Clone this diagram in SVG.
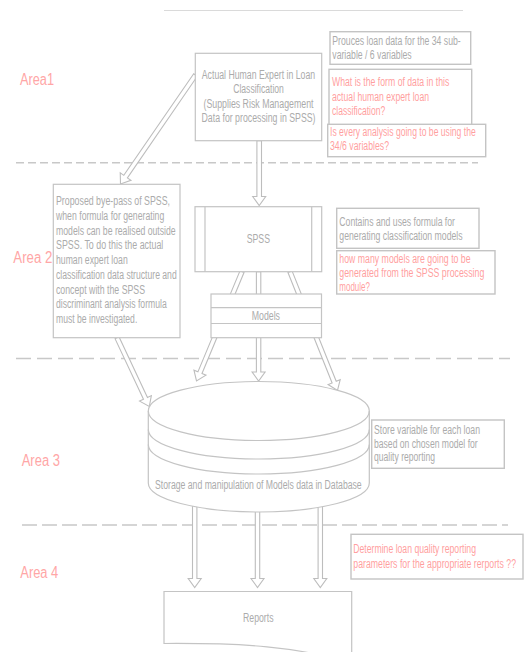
<svg xmlns="http://www.w3.org/2000/svg" width="525" height="652" viewBox="0 0 525 652">
<defs>
<style>
.bg{fill:#ffffff}
.box{fill:#ffffff;stroke:#c4c4c4;stroke-width:1.2}
.note{fill:#ffffff;stroke:#c4c4c4;stroke-width:1.4}
.ln{fill:none;stroke:#c4c4c4;stroke-width:1.2}
.arrow{fill:#ffffff;stroke:#bdbdbd;stroke-width:1.1;stroke-linejoin:miter}
.sep{fill:none;stroke:#c8c8c8;stroke-width:1.4}
text{font-family:"Liberation Sans",Arial,sans-serif;font-size:12px}
.t{fill:#ababab}
.p{fill:#ff9f9f}
.area{fill:#ffa6a6;font-size:16px}
</style>
</defs>
<rect class="bg" x="0" y="0" width="525" height="652"/>
<line x1="164" y1="10.5" x2="463" y2="10.5" stroke="#dadada" stroke-width="1"/>
<g id="separators">
<line class="sep" x1="16" y1="162.7" x2="478" y2="162.7" stroke-dasharray="8,4"/>
<line class="sep" x1="16" y1="358.5" x2="510" y2="358.5" stroke-dasharray="15,6"/>
<line class="sep" x1="22" y1="525" x2="508" y2="525" stroke-dasharray="15,5"/>
</g>
<g id="area-labels">
<text class="area" x="20" y="84.5" textLength="34" lengthAdjust="spacingAndGlyphs">Area1</text>
<text class="area" x="13.3" y="263" textLength="39" lengthAdjust="spacingAndGlyphs">Area 2</text>
<text class="area" x="21.7" y="466" textLength="38.3" lengthAdjust="spacingAndGlyphs">Area 3</text>
<text class="area" x="20.3" y="577.5" textLength="38" lengthAdjust="spacingAndGlyphs">Area 4</text>
</g>
<g id="connectors">
<polygon class="arrow" points="256.9,140.7 256.9,196.5 252.7,196.5 259.2,205.5 265.7,196.5 261.5,196.5 261.5,140.7"/>
<polygon class="arrow" points="193.69,73.75 123.79,175.33 120.24,172.9 120.5,184 130.96,180.26 127.41,177.83 197.31,76.25"/>
<polygon class="arrow" points="115.01,338.64 143.48,399.29 139.59,401.11 149.3,406.5 151.35,395.59 147.46,397.42 118.99,336.77"/>
<polygon class="arrow" points="239.97,270.85 197.93,371.84 193.96,370.19 196.5,381 205.96,375.19 201.99,373.54 244.03,272.55"/>
<polygon class="arrow" points="256.4,271.7 256.4,372 252.1,372 258.6,381 265.1,372 260.8,372 260.8,271.7"/>
<polygon class="arrow" points="287.96,272.52 332.12,382.96 328.12,384.55 337.5,390.5 340.2,379.73 336.2,381.32 292.04,270.88"/>
<polygon class="arrow" points="192.5,500 192.5,578.5 188.2,578.5 194.7,587.5 201.2,578.5 196.9,578.5 196.9,500"/>
<polygon class="arrow" points="255.3,505 255.3,578.5 251,578.5 257.5,587.5 264,578.5 259.7,578.5 259.7,505"/>
<polygon class="arrow" points="318.1,500 318.1,578.5 313.8,578.5 320.3,587.5 326.8,578.5 322.5,578.5 322.5,500"/>
</g>
<g id="expert">
<rect class="box" x="195.3" y="53.3" width="126.4" height="87.4"/>
<text class="t" x="201.8" y="78.5" textLength="113.3" lengthAdjust="spacingAndGlyphs">Actual Human Expert in Loan</text>
<text class="t" x="233.2" y="93" textLength="50.7" lengthAdjust="spacingAndGlyphs">Classification</text>
<text class="t" x="203.5" y="107.5" textLength="110" lengthAdjust="spacingAndGlyphs">(Supplies Risk Management</text>
<text class="t" x="201.5" y="122" textLength="114" lengthAdjust="spacingAndGlyphs">Data for processing in SPSS)</text>
</g>
<g id="note-produces">
<rect class="note" x="330" y="31.7" width="140.7" height="32.6"/>
<text class="t" x="332.3" y="44.5" textLength="128.4" lengthAdjust="spacingAndGlyphs">Prouces loan data for the 34 sub-</text>
<text class="t" x="332.3" y="58.5" textLength="79.4" lengthAdjust="spacingAndGlyphs">variable / 6 variables</text>
</g>
<g id="note-form">
<rect class="note" x="329" y="69.3" width="142.7" height="58"/>
<text class="p" x="332" y="86" textLength="117.3" lengthAdjust="spacingAndGlyphs">What is the form of data in this</text>
<text class="p" x="332" y="100.5" textLength="97" lengthAdjust="spacingAndGlyphs">actual human expert loan</text>
<text class="p" x="332" y="115" textLength="53.3" lengthAdjust="spacingAndGlyphs">classification?</text>
</g>
<g id="note-every">
<rect class="note" x="327.7" y="124.3" width="158" height="32.4"/>
<text class="p" x="330" y="135.5" textLength="145.7" lengthAdjust="spacingAndGlyphs">Is every analysis going to be using the</text>
<text class="p" x="330" y="150" textLength="59" lengthAdjust="spacingAndGlyphs">34/6 variables?</text>
</g>
<g id="bypass">
<rect class="box" x="53.3" y="184.3" width="126.7" height="153.4"/>
<text class="t" x="56" y="205" textLength="114" lengthAdjust="spacingAndGlyphs">Proposed bye-pass of SPSS,</text>
<text class="t" x="56" y="219.75" textLength="108.3" lengthAdjust="spacingAndGlyphs">when formula for generating</text>
<text class="t" x="56" y="234.5" textLength="119.7" lengthAdjust="spacingAndGlyphs">models can be realised outside</text>
<text class="t" x="56" y="249.25" textLength="107.3" lengthAdjust="spacingAndGlyphs">SPSS. To do this the actual</text>
<text class="t" x="56" y="264" textLength="71.7" lengthAdjust="spacingAndGlyphs">human expert loan</text>
<text class="t" x="56" y="278.75" textLength="120.7" lengthAdjust="spacingAndGlyphs">classification data structure and</text>
<text class="t" x="56" y="293.5" textLength="89" lengthAdjust="spacingAndGlyphs">concept with the SPSS</text>
<text class="t" x="56" y="308.25" textLength="110.7" lengthAdjust="spacingAndGlyphs">discriminant analysis formula</text>
<text class="t" x="56" y="323" textLength="81.3" lengthAdjust="spacingAndGlyphs">must be investigated.</text>
</g>
<g id="spss">
<rect class="box" x="195" y="206.7" width="126.7" height="65"/>
<line class="ln" x1="205" y1="206.7" x2="205" y2="271.7"/>
<line class="ln" x1="311.7" y1="206.7" x2="311.7" y2="271.7"/>
<text class="t" x="246.7" y="243.3" textLength="23.3" lengthAdjust="spacingAndGlyphs">SPSS</text>
</g>
<g id="note-contains">
<rect class="note" x="336.7" y="208.3" width="142.3" height="40"/>
<text class="t" x="339.3" y="225.5" textLength="115.7" lengthAdjust="spacingAndGlyphs">Contains and uses formula for</text>
<text class="t" x="339.3" y="239.5" textLength="123.3" lengthAdjust="spacingAndGlyphs">generating classification models</text>
</g>
<g id="note-howmany">
<rect class="note" x="336.7" y="250.7" width="158.3" height="43.3"/>
<text class="p" x="339.3" y="262.5" textLength="131.3" lengthAdjust="spacingAndGlyphs">how many models are going to be</text>
<text class="p" x="339.3" y="276.7" textLength="145" lengthAdjust="spacingAndGlyphs">generated from the SPSS processing</text>
<text class="p" x="339.3" y="291" textLength="30.7" lengthAdjust="spacingAndGlyphs">module?</text>
</g>
<g id="models">
<rect class="box" x="211" y="294" width="110.5" height="43.7"/>
<line class="ln" x1="211" y1="307.7" x2="321.5" y2="307.7"/>
<line class="ln" x1="211" y1="323.5" x2="321.5" y2="323.5"/>
<text class="t" x="251.7" y="320" textLength="28.3" lengthAdjust="spacingAndGlyphs">Models</text>
</g>
<g id="database">
<path class="box" d="M148.3,411 A110.5,29.5 0 0 1 369.3,411 L369.3,483 A110.5,29 0 0 1 148.3,483 Z"/>
<path class="ln" d="M148.3,411 A110.5,29.5 0 0 0 369.3,411"/>
<path class="ln" d="M148.3,429.5 A110.5,29.5 0 0 0 369.3,429.5"/>
<path class="ln" d="M148.3,444.5 A110.5,29.5 0 0 0 369.3,444.5"/>
<text class="t" x="155" y="489" textLength="206.7" lengthAdjust="spacingAndGlyphs">Storage and manipulation of Models data in Database</text>
</g>
<g id="note-store">
<rect class="note" x="371.7" y="420" width="132.6" height="48.3"/>
<text class="t" x="374" y="434" textLength="106" lengthAdjust="spacingAndGlyphs">Store variable for each loan</text>
<text class="t" x="374" y="447.5" textLength="103.7" lengthAdjust="spacingAndGlyphs">based on chosen model for</text>
<text class="t" x="374" y="461" textLength="61" lengthAdjust="spacingAndGlyphs">quality reporting</text>
</g>
<g id="note-determine">
<rect class="note" x="351" y="534.3" width="172" height="44.7"/>
<text class="p" x="353.3" y="553" textLength="122.7" lengthAdjust="spacingAndGlyphs">Determine loan quality reporting</text>
<text class="p" x="353.3" y="567.5" textLength="162.7" lengthAdjust="spacingAndGlyphs">parameters for the appropriate rerports ??</text>
</g>
<g id="reports">
<path class="box" d="M164,591.5 H351.7 V664 C300,646 240,643 164,643.5 Z"/>
<text class="t" x="243" y="621.5" textLength="30.5" lengthAdjust="spacingAndGlyphs">Reports</text>
</g>
</svg>
